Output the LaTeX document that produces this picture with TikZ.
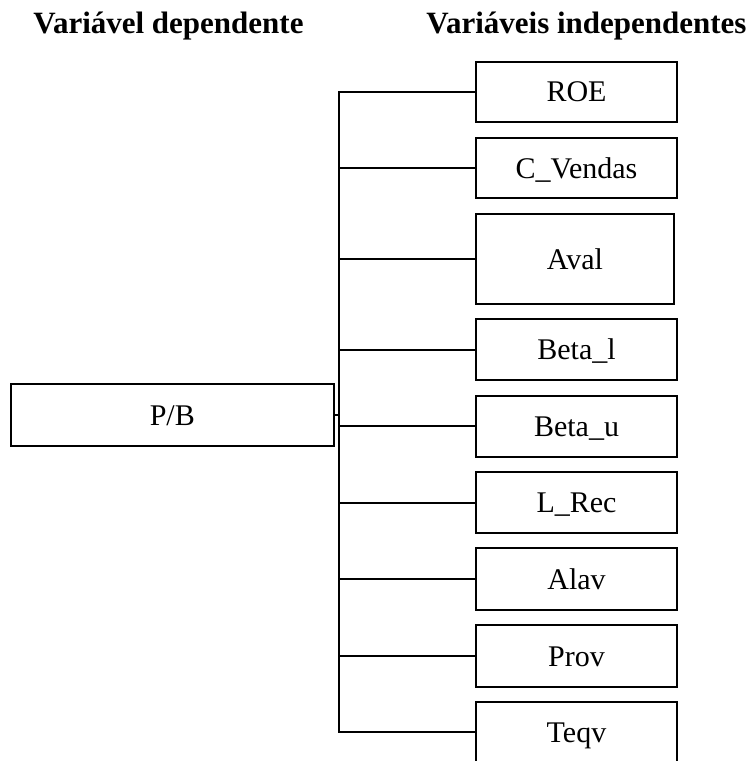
\documentclass[tikz,border=0pt]{standalone}
\usepackage{fontspec}
\setmainfont{Liberation Serif}
\begin{document}
\begin{tikzpicture}[x=1pt,y=-1pt,line width=2pt,
  box/.style={draw=black,rectangle,inner sep=0pt,minimum width=201pt,
    font=\fontsize{30}{36}\selectfont,text height=20.5pt,text depth=0pt},
  ttl/.style={anchor=base,font=\fontsize{31}{37}\selectfont\bfseries,inner sep=0pt}]
\useasboundingbox (0,0) rectangle (752,761);
\node[ttl] (t1) at (168.5,33) {Variável dependente};
\node[ttl] (t2) at (586.5,33) {Variáveis independentes};
\node[box,minimum width=323.4pt,minimum height=61.7pt] (pb) at (172.3,414.9) {P/B};
\node[box,minimum height=60pt] (roe) at (576.5,91.7) {ROE};
\node[box,minimum height=60.6pt] (cv) at (576.5,168) {C\_Vendas};
\node[box,minimum width=198pt,minimum height=90pt] (aval) at (575,259.2) {Aval};
\node[box,minimum height=61pt] (bl) at (576.5,349.5) {Beta\_l};
\node[box,minimum height=61pt] (bu) at (576.5,426.2) {Beta\_u};
\node[box,minimum height=60.4pt] (lrec) at (576.5,502.5) {L\_Rec};
\node[box,minimum height=61.7pt] (alav) at (576.5,579.2) {Alav};
\node[box,minimum height=61.7pt] (prov) at (576.5,655.8) {Prov};
\node[box,minimum height=61pt] (teqv) at (576.5,732) {Teqv};
\coordinate (bus) at (339.3,0);
\draw (roe.west) -- (bus |- roe.west) -- (bus |- teqv.west) -- (teqv.west);
\foreach \n in {cv,aval,bl,bu,lrec,alav,prov}{
  \draw (\n.west) -- (bus |- \n.west);
}
\draw (pb.east) -- (bus |- pb.east);
\end{tikzpicture}
\end{document}
